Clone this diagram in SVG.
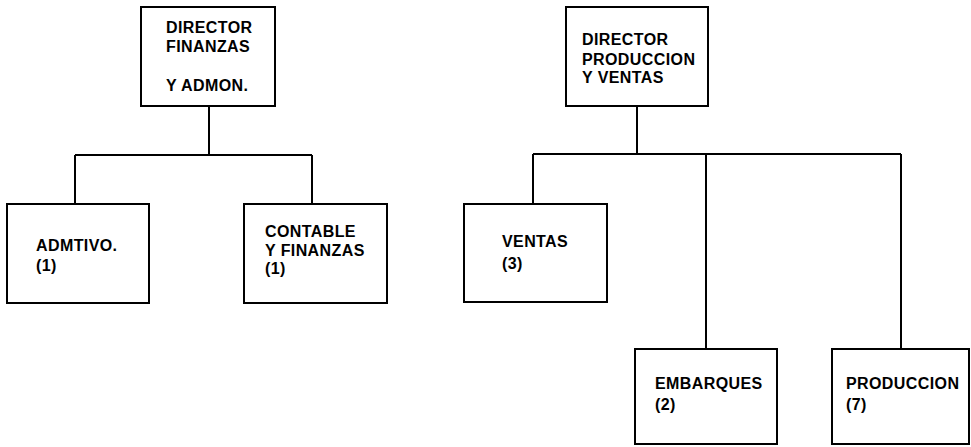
<svg xmlns="http://www.w3.org/2000/svg" width="971" height="447" viewBox="0 0 971 447">
<style>
.box{fill:#fff;stroke:#000;stroke-width:2}
.ln{fill:none;stroke:#000;stroke-width:2}
text{font-family:"Liberation Sans",Arial,sans-serif;font-weight:bold;font-size:16px;letter-spacing:0.4px;fill:#000}
</style>
<rect width="971" height="447" fill="#fff"/>
<g id="connectors">
<path class="ln" d="M209 106V155M75 155H312M75 155V204M312 155V204"/>
<path class="ln" d="M637 106V154M533 154H901M533 154V204M706 154V349M901 154V349"/>
</g>
<g id="dir-finanzas">
<rect class="box" x="141" y="7" width="134" height="99"/>
<text x="166" y="33">DIRECTOR</text>
<text x="166" y="52">FINANZAS</text>
<text x="166" y="91">Y ADMON.</text>
</g>
<g id="admtivo">
<rect class="box" x="7" y="204" width="142" height="99"/>
<text x="36" y="251">ADMTIVO.</text>
<text x="36" y="271">(1)</text>
</g>
<g id="contable">
<rect class="box" x="244" y="204" width="143" height="99"/>
<text x="265" y="237">CONTABLE</text>
<text x="265" y="256">Y FINANZAS</text>
<text x="265" y="274">(1)</text>
</g>
<g id="dir-produccion">
<rect class="box" x="566" y="7" width="142" height="99"/>
<text x="582" y="45">DIRECTOR</text>
<text x="582" y="65">PRODUCCION</text>
<text x="582" y="83">Y VENTAS</text>
</g>
<g id="ventas">
<rect class="box" x="464" y="204" width="143" height="98"/>
<text x="502" y="247">VENTAS</text>
<text x="502" y="269">(3)</text>
</g>
<g id="embarques">
<rect class="box" x="635" y="349" width="142" height="95"/>
<text x="655" y="389">EMBARQUES</text>
<text x="655" y="410">(2)</text>
</g>
<g id="produccion">
<rect class="box" x="832" y="349" width="137" height="95"/>
<text x="846" y="389">PRODUCCION</text>
<text x="846" y="410">(7)</text>
</g>
</svg>
